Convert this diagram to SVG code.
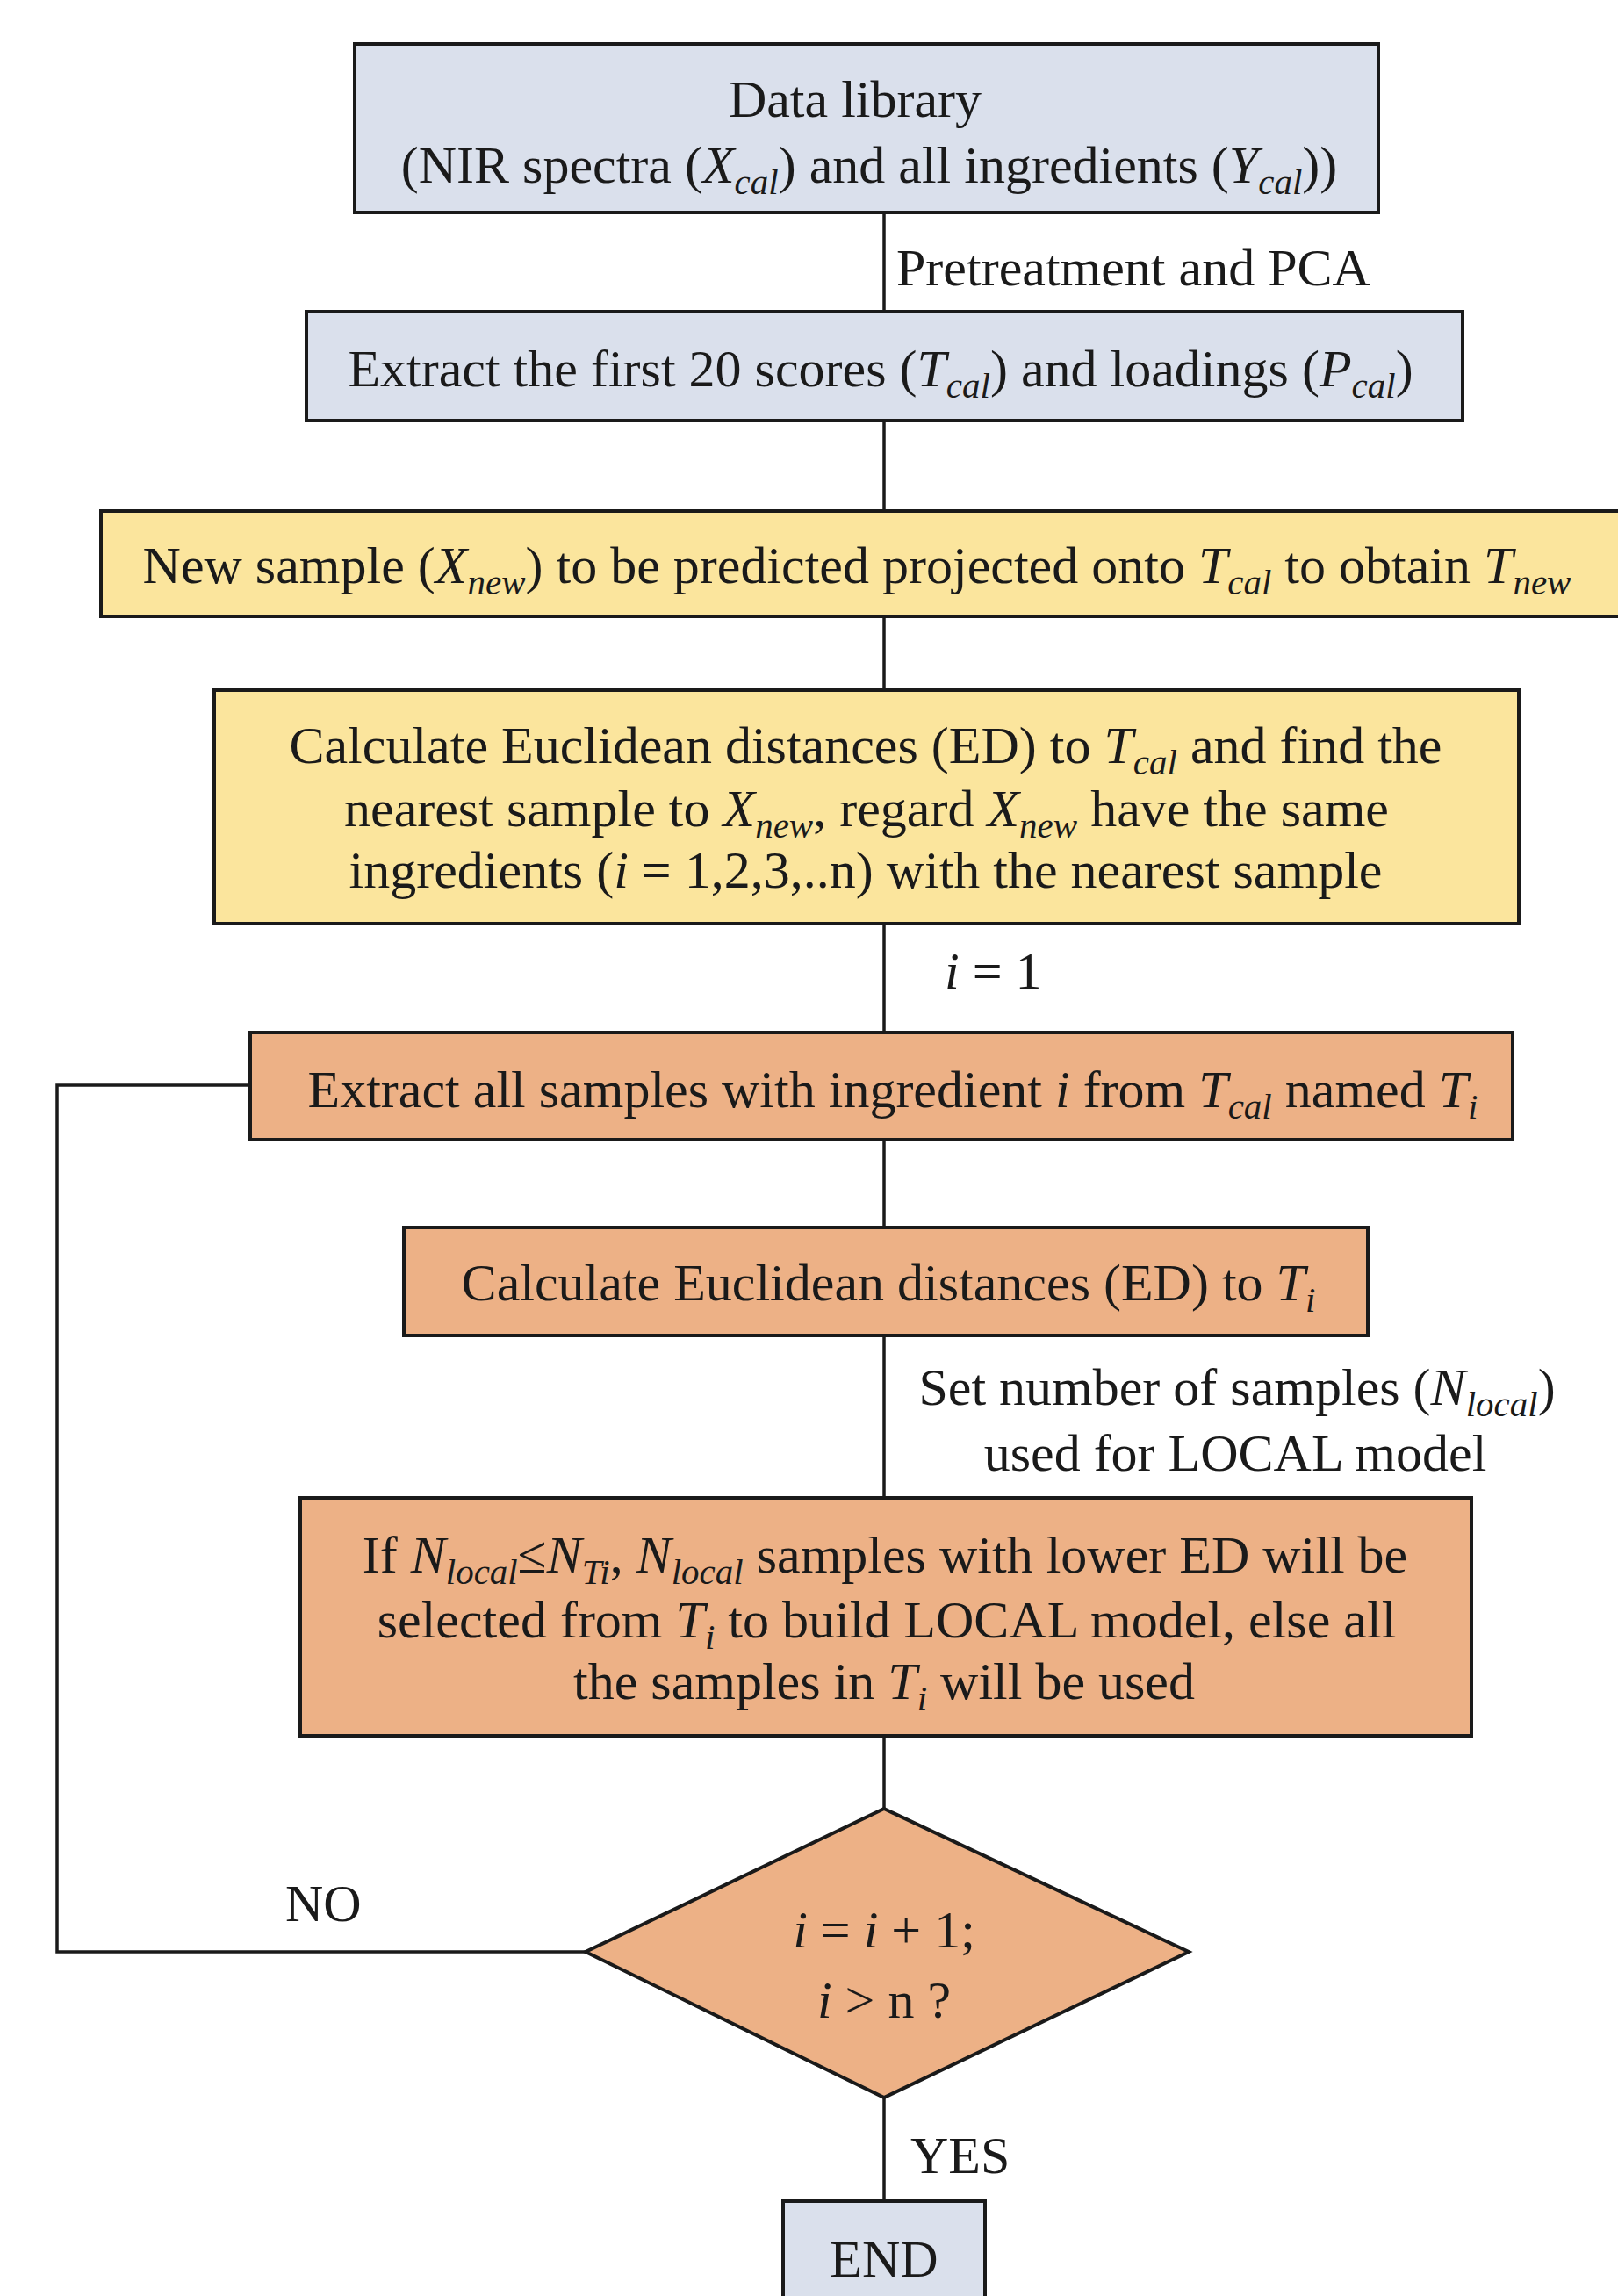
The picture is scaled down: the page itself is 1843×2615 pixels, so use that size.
<svg xmlns="http://www.w3.org/2000/svg" width="1843" height="2615" viewBox="0 0 1843 2615">
<style>
.t{font-family:"Liberation Serif","Times New Roman",serif;font-size:60px;fill:#1a1a1a}
.c{text-anchor:middle}
.i{font-style:italic}
.s{font-style:italic;font-size:41px}
.box{stroke:#1a1a1a;stroke-width:4}
.blue{fill:#dae0ec}
.yel{fill:#fbe59d}
.org{fill:#edb186}
.ln{fill:none;stroke:#1a1a1a;stroke-width:3.5}
</style>
<rect width="1843" height="2615" fill="#ffffff"/>
<g id="connectors">
<line class="ln" x1="1007" y1="242" x2="1007" y2="355"/>
<line class="ln" x1="1007" y1="479" x2="1007" y2="582"/>
<line class="ln" x1="1007" y1="702" x2="1007" y2="786"/>
<line class="ln" x1="1007" y1="1052" x2="1007" y2="1176"/>
<line class="ln" x1="1007" y1="1298" x2="1007" y2="1398"/>
<line class="ln" x1="1007" y1="1521" x2="1007" y2="1706"/>
<line class="ln" x1="1007" y1="1977" x2="1007" y2="2060"/>
<line class="ln" x1="1007" y1="2389" x2="1007" y2="2507"/>
<polyline class="ln" points="285,1236 65,1236 65,2223 667,2223"/>
<text class="t" x="1021" y="325">Pretreatment  and PCA</text>
<text class="t" x="1076" y="1126"><tspan class="i">i</tspan> = 1</text>
<text class="t c" x="1409" y="1600">Set number of samples (<tspan class="i">N</tspan><tspan class="s" dy="13">local</tspan><tspan dy="-13">)</tspan></text>
<text class="t c" x="1407" y="1675">used for LOCAL model</text>
<text class="t" x="325" y="2188">NO</text>
<text class="t" x="1037" y="2475">YES</text>
</g>
<g id="node-data-library">
<rect class="box blue" x="404" y="50" width="1166" height="192"/>
<text class="t c" x="974" y="133">Data library</text>
<text class="t c" x="990" y="208">(NIR spectra (<tspan class="i">X</tspan><tspan class="s" dy="13">cal</tspan><tspan dy="-13">) and all  ingredients  (</tspan><tspan class="i">Y</tspan><tspan class="s" dy="13">cal</tspan><tspan dy="-13">))</tspan></text>
</g>
<g id="node-extract-scores">
<rect class="box blue" x="349" y="355" width="1317" height="124"/>
<text class="t c" x="1003" y="440">Extract the first 20 scores (<tspan class="i">T</tspan><tspan class="s" dy="13">cal</tspan><tspan dy="-13">) and loadings (</tspan><tspan class="i">P</tspan><tspan class="s" dy="13">cal</tspan><tspan dy="-13">)</tspan></text>
</g>
<g id="node-new-sample">
<rect class="box yel" x="115" y="582" width="1760" height="120"/>
<text class="t c" x="976" y="664">New sample (<tspan class="i">X</tspan><tspan class="s" dy="13">new</tspan><tspan dy="-13">) to be predicted projected onto </tspan><tspan class="i">T</tspan><tspan class="s" dy="13">cal</tspan><tspan dy="-13"> to obtain </tspan><tspan class="i">T</tspan><tspan class="s" dy="13">new</tspan></text>
</g>
<g id="node-calc-ed">
<rect class="box yel" x="244" y="786" width="1486" height="266"/>
<text class="t c" x="986" y="869">Calculate Euclidean distances (ED) to <tspan class="i">T</tspan><tspan class="s" dy="13">cal</tspan><tspan dy="-13"> and  find the</tspan></text>
<text class="t c" x="987" y="941">nearest sample to <tspan class="i">X</tspan><tspan class="s" dy="13">new</tspan><tspan dy="-13">,  regard </tspan><tspan class="i">X</tspan><tspan class="s" dy="13">new</tspan><tspan dy="-13"> have the same</tspan></text>
<text class="t c" x="986" y="1011">ingredients  (<tspan class="i">i</tspan> = 1,2,3,..n) with the nearest sample</text>
</g>
<g id="node-extract-ingredient">
<rect class="box org" x="285" y="1176" width="1438" height="122"/>
<text class="t c" x="1017" y="1261">Extract all  samples with ingredient  <tspan class="i">i</tspan> from <tspan class="i">T</tspan><tspan class="s" dy="13">cal</tspan><tspan dy="-13"> named </tspan><tspan class="i">T</tspan><tspan class="s" dy="13">i</tspan></text>
</g>
<g id="node-calc-ed-ti">
<rect class="box org" x="460" y="1398" width="1098" height="123"/>
<text class="t c" x="1012" y="1481">Calculate  Euclidean  distances (ED) to <tspan class="i">T</tspan><tspan class="s" dy="13">i</tspan></text>
</g>
<g id="node-select-local">
<rect class="box org" x="342" y="1706" width="1334" height="271"/>
<text class="t c" x="1008" y="1791">If <tspan class="i">N</tspan><tspan class="s" dy="13">local</tspan><tspan dy="-13">≤</tspan><tspan class="i">N</tspan><tspan class="s" dy="13">Ti</tspan><tspan dy="-13">, </tspan><tspan class="i">N</tspan><tspan class="s" dy="13">local</tspan><tspan dy="-13"> samples with lower ED will  be</tspan></text>
<text class="t c" x="1010" y="1865">selected from <tspan class="i">T</tspan><tspan class="s" dy="13">i</tspan><tspan dy="-13"> to build LOCAL model, else all</tspan></text>
<text class="t c" x="1007" y="1935">the samples in <tspan class="i">T</tspan><tspan class="s" dy="13">i</tspan><tspan dy="-13"> will  be used</tspan></text>
</g>
<g id="node-decision">
<polygon class="box org" points="1007,2060 1354,2223 1007,2389 667,2223"/>
<text class="t c" x="1007" y="2218"><tspan class="i">i</tspan> = <tspan class="i">i</tspan> + 1;</text>
<text class="t c" x="1007" y="2298"><tspan class="i">i</tspan>  &gt; n ?</text>
</g>
<g id="node-end">
<rect class="box blue" x="892" y="2507" width="230" height="130"/>
<text class="t c" x="1007" y="2593">END</text>
</g>
</svg>
